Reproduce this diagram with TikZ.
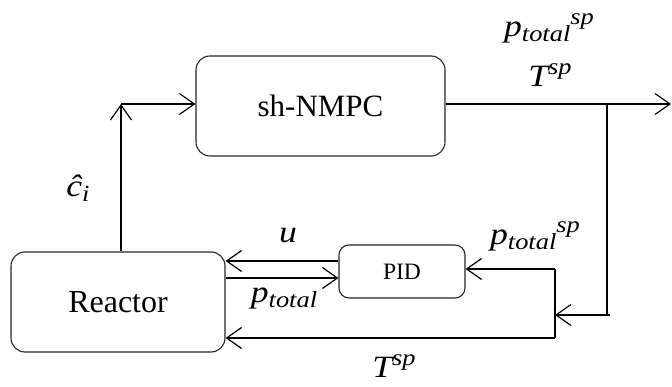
\documentclass[tikz,border=0pt]{standalone}
\usepackage{fontspec}
\setmainfont{Liberation Serif}
\newfontfamily\mifont{Liberation Serif}[FakeStretch=1.15]
\usetikzlibrary{arrows.meta}
\newcommand\Lsub[1]{\raisebox{-5pt}{\fontsize{23}{24}\selectfont\mifont\itshape #1}}
\newcommand\Lsup[1]{\raisebox{12pt}{\fontsize{23}{24}\selectfont\mifont\itshape #1}}
\begin{document}
\begin{tikzpicture}[x=1pt,y=-1pt,line width=1.2pt,
  blk/.style={draw=black!85,rounded corners=14pt,line width=1.1pt,inner sep=0pt},
  arr/.style={-{Straight Barb[length=15pt,width=21pt,line width=1.2pt]}},
  lbl/.style={inner sep=0pt,font=\fontsize{31}{33}\selectfont\mifont\itshape}]
\useasboundingbox (0,0) rectangle (672,387);
\node[blk,minimum width=249pt,minimum height=100pt,font=\fontsize{31}{34}\selectfont] (nmpc) at (320.5,106) {sh-NMPC};
\node[blk,minimum width=214pt,minimum height=100pt,font=\fontsize{32}{34}\selectfont] (reactor) at (118,302) {Reactor};
\node[blk,rounded corners=10pt,minimum width=126pt,minimum height=53pt,font=\fontsize{23.5}{26}\selectfont] (pid) at (402,271.5) {PID};
\coordinate (c1) at (121,104);
\coordinate (out) at (671,104);
\coordinate (br) at (607,104);
\coordinate (j1) at (610,315);
\coordinate (j2) at (555,315);
\coordinate (j3) at (555,269);
\coordinate (j4) at (555,338);
\coordinate (ya) at (0,261);
\coordinate (yb) at (0,278);
% feedback from reactor to nmpc
\draw[arr] (reactor.north -| c1) -- (c1);
\draw[arr] (c1) -- (c1 -| nmpc.west);
% nmpc output
\draw[arr] (c1 -| nmpc.east) -- (out);
\draw (br) -- (br |- j1);
\draw[arr] (j1) -- (j2);
\draw[arr] (j3) -- (j3 -| pid.east);
\draw (j3) -- (j4);
\draw[arr] (j4) -- (j4 -| reactor.east);
% reactor <-> pid
\draw[arr] (pid.west |- ya) -- (reactor.east |- ya);
\draw[arr] (reactor.east |- yb) -- (pid.west |- yb);
% labels
\node[lbl] (l1) at (549,28) {p\Lsub{total}\Lsup{sp}};
\node[lbl] (l2) at (550,75) {T\Lsup{sp}};
\node[lbl] (l3) at (78,188) {ĉ\Lsub{i}};
\node[lbl] (l4) at (288,236) {u};
\node[lbl] (l5) at (284,298) {p\Lsub{total}};
\node[lbl] (l6) at (535,236) {p\Lsub{total}\Lsup{sp}};
\node[lbl] (l7) at (394,366) {T\Lsup{sp}};
\end{tikzpicture}
\end{document}
